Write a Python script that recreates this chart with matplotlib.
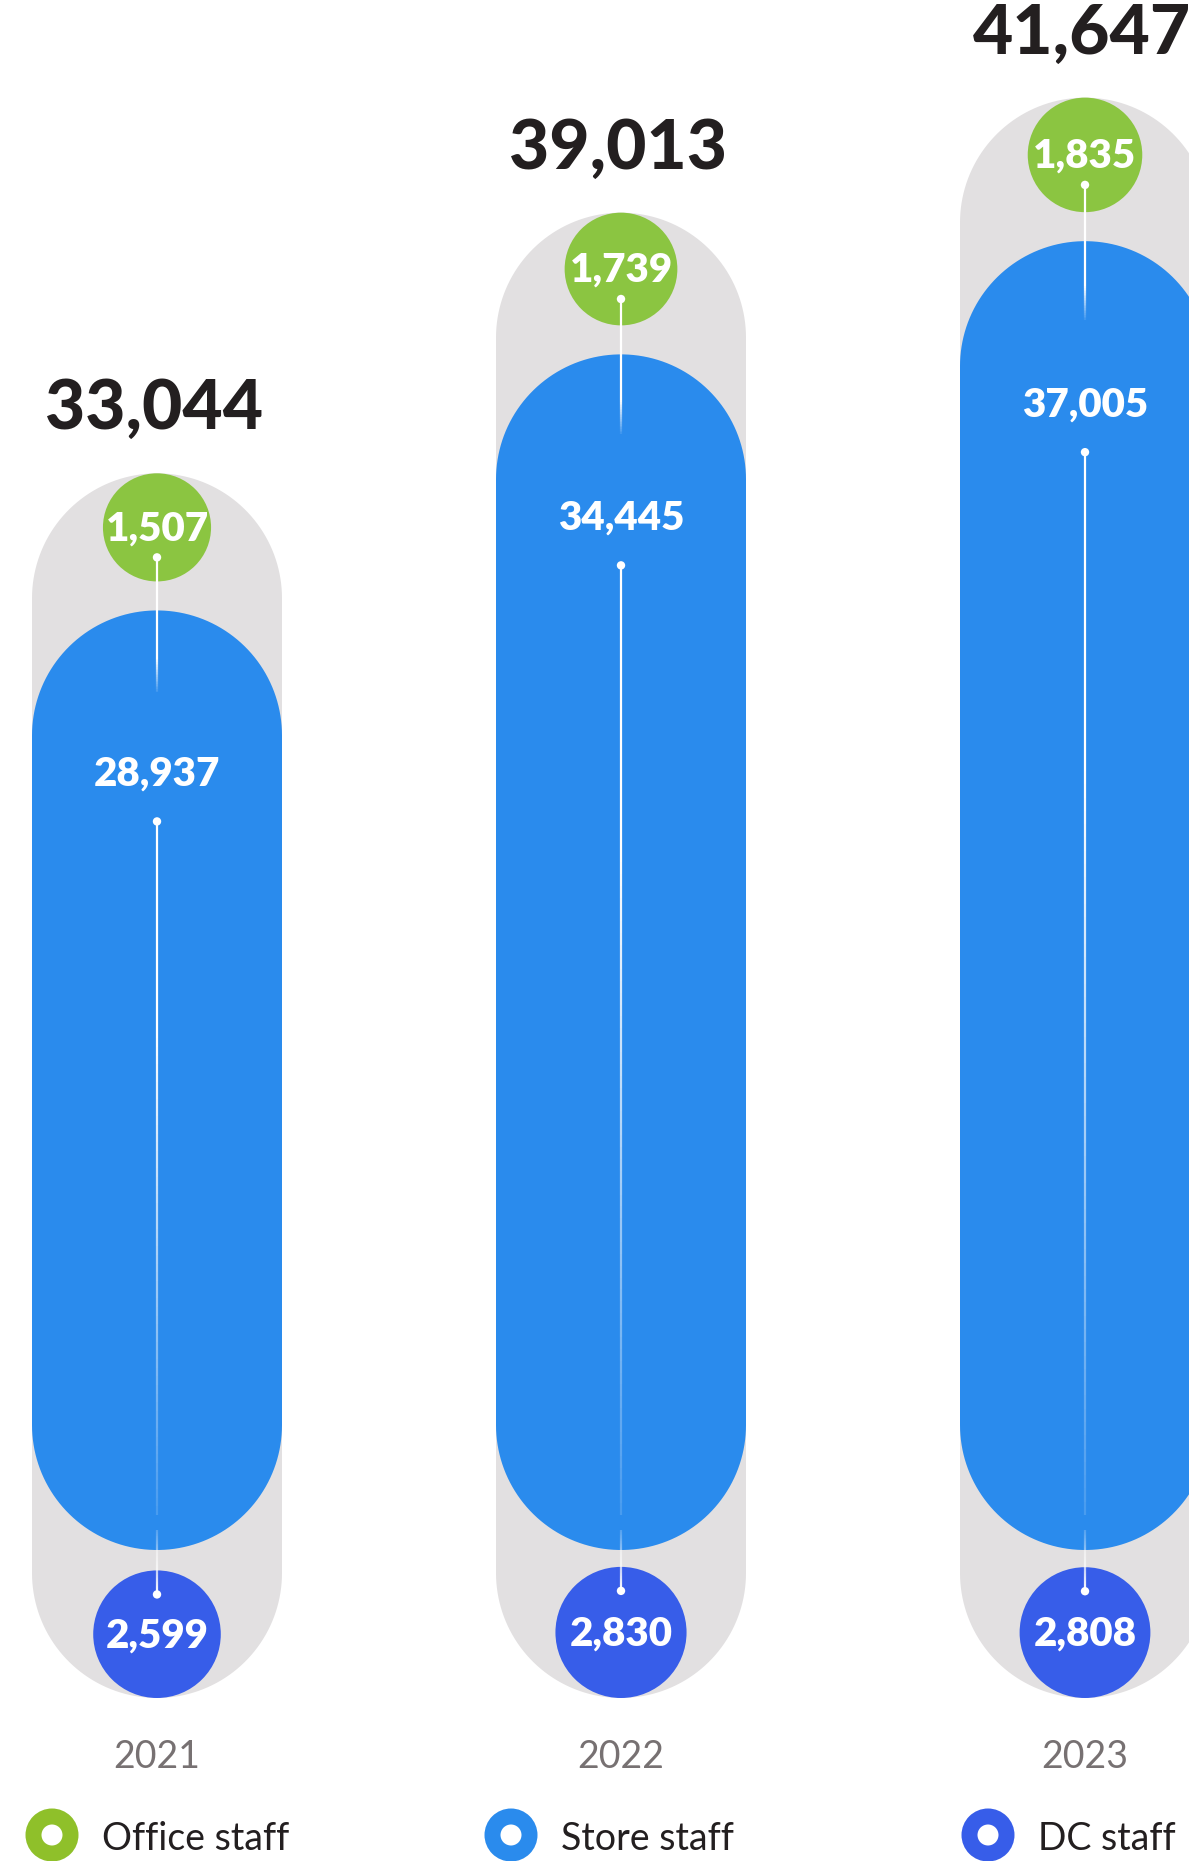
import numpy as np
import matplotlib.pyplot as plt
from matplotlib.patches import Ellipse, Polygon
from matplotlib.collections import LineCollection
from matplotlib.colors import to_rgba

# Headcount by year
years = ['2021', '2022', '2023']
total_staff = [33044, 39013, 41647]
office_staff = [1507, 1739, 1835]
store_staff = [28937, 34445, 37005]
dc_staff = [2599, 2830, 2808]
legend_labels = ['Office staff', 'Store staff', 'DC staff']

GRAY = '#e2e0e1'
GREEN = '#8bc541'
BLUE = '#2a8bed'
DC_BLUE = '#375de9'
INK = '#231f20'
YEAR_GREY = '#777172'
FONT = ['Lato', 'DejaVu Sans']

W, H = 1189, 1861
SCALE = 0.04367      # px per person on the vertical axis
FLOOR = 5000         # headcount at the foot of every column
BASE_PX = 163        # foot of the columns, px above the bottom edge
PX = 1 / SCALE       # people per px, for fixed-size offsets

col_x = 157 + 464 * np.arange(len(years))
col_r = 125
legend_x = [52, 511, 988]
legend_colors = ['#8fc02a', BLUE, DC_BLUE]


def bubble_r(v):
    return 23 + 0.8 * np.sqrt(v)


def capsule(ax, cx, y0, y1, r, color):
    ry = r * PX
    t_top = np.linspace(0, np.pi, 80)
    t_bot = np.linspace(np.pi, 2 * np.pi, 80)
    top = np.column_stack([cx + r * np.cos(t_top), y1 - ry + ry * np.sin(t_top)])
    bot = np.column_stack([cx + r * np.cos(t_bot), y0 + ry + ry * np.sin(t_bot)])
    ax.add_patch(Polygon(np.vstack([top, bot]), closed=True, fc=color, ec='none'))


def circle(ax, cx, cy, r, color, z=3):
    ax.add_patch(Ellipse((cx, cy), 2 * r, 2 * r * PX, fc=color, ec='none', zorder=z))


def fade_line(ax, x, y_from, y_to, a_from, a_to, hold=0.0, n=80):
    # white connector whose opacity changes along its length
    ys = np.linspace(y_from, y_to, n + 1)
    t = np.linspace(0, 1, n)
    a = np.where(t < hold, a_from,
                 a_from + (a_to - a_from) * np.clip((t - hold) / (1 - hold + 1e-9), 0, 1))
    segs = [[(x, ys[i]), (x, ys[i + 1])] for i in range(n)]
    cols = [to_rgba('white', al) for al in a]
    ax.add_collection(LineCollection(segs, colors=cols, linewidths=1.6,
                                     capstyle='butt', zorder=5))


def dot(ax, x, y):
    circle(ax, x, y, 4.2, 'white', z=6)


fig = plt.figure(figsize=(W / 100, H / 100), dpi=100)
ax = fig.add_axes([0, 0, 1, 1])
ymin = FLOOR - BASE_PX * PX
ax.set_xlim(0, W)
ax.set_ylim(ymin, ymin + H * PX)
ax.axis('off')

inner = dict(ha='center', va='baseline', fontsize=29, fontweight='heavy',
             color='white', family=FONT, zorder=7)

for i, cx in enumerate(col_x):
    top = total_staff[i]
    r_o = bubble_r(office_staff[i])
    r_d = bubble_r(dc_staff[i])

    # background capsule spans the whole headcount
    capsule(ax, cx, FLOOR, top, col_r, GRAY)

    # store staff bar sits between the two bubbles
    blue_bot = FLOOR + 148 * PX
    blue_top = top - (2 * r_o + 29) * PX
    capsule(ax, cx, blue_bot, blue_top, col_r, BLUE)

    # office bubble at the top, DC bubble at the foot
    o_c = top - r_o * PX
    d_c = FLOOR + r_d * PX
    circle(ax, cx, o_c, r_o, GREEN)
    circle(ax, cx, d_c, r_d, DC_BLUE)

    ax.text(cx - 3, top + 44 * PX, f'{total_staff[i]:,}', ha='center', va='baseline',
            fontsize=50, fontweight='black', color=INK, family=FONT)

    ax.text(cx, o_c - 13 * PX, f'{office_staff[i]:,}', **inner)
    o_dot = o_c - 30 * PX
    fade_line(ax, cx, o_dot, o_dot - 135 * PX, 1.0, 0.1, hold=0.75)
    dot(ax, cx, o_dot)

    s_base = blue_top - 175 * PX
    ax.text(cx, s_base, f'{store_staff[i]:,}', **inner)
    s_dot = s_base - 36 * PX
    fade_line(ax, cx, s_dot, blue_bot + 35 * PX, 1.0, 0.15, hold=0.3)
    dot(ax, cx, s_dot)

    ax.text(cx, d_c - 13 * PX, f'{dc_staff[i]:,}', **inner)
    d_dot = d_c + (r_d - 24) * PX
    fade_line(ax, cx, blue_bot + 20 * PX, d_dot, 0.2, 1.0, hold=0.0)
    dot(ax, cx, d_dot)

    ax.text(cx, FLOOR - 70 * PX, years[i], ha='center', va='baseline',
            fontsize=27, color=YEAR_GREY, family=FONT)

# legend rings along the bottom
for lx, lab, col in zip(legend_x, legend_labels, legend_colors):
    ly = FLOOR - 137 * PX
    circle(ax, lx, ly, 26.5, col)
    circle(ax, lx, ly, 10.5, 'white', z=4)
    ax.text(lx + 50, FLOOR - 152 * PX, lab, ha='left', va='baseline',
            fontsize=27, color=INK, family=FONT)

fig.savefig('out.png', dpi=100)
